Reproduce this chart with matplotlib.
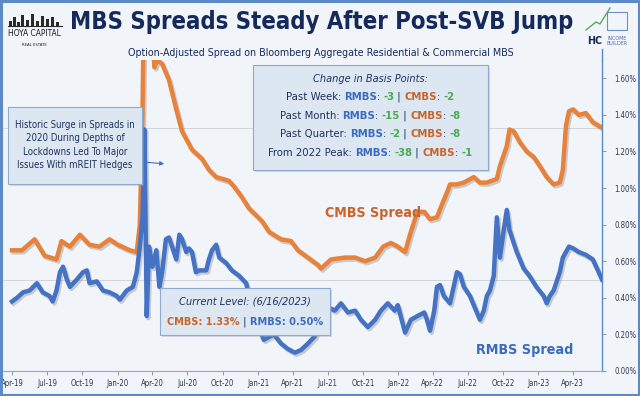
import matplotlib
matplotlib.use("Agg")
import matplotlib.pyplot as plt
import matplotlib.dates as mdates
import matplotlib.patheffects as pe
from matplotlib import font_manager as fm
from matplotlib.patches import Rectangle
from matplotlib.lines import Line2D
from matplotlib.text import Annotation
import pandas as pd

# data (percent)
cmbs_dates = ["2019-04-01", "2019-04-27", "2019-05-30", "2019-06-25", "2019-07-26", "2019-08-08",
              "2019-08-30", "2019-09-25", "2019-10-20", "2019-11-15", "2019-12-11", "2020-01-02",
              "2020-02-02", "2020-02-20", "2020-02-28", "2020-03-06", "2020-03-11", "2020-03-18",
              "2020-03-29", "2020-04-06", "2020-04-13", "2020-04-26", "2020-05-14", "2020-06-02",
              "2020-06-17", "2020-07-13", "2020-08-08", "2020-08-26", "2020-09-14", "2020-10-17",
              "2020-10-30", "2020-11-20", "2020-12-08", "2021-01-11", "2021-01-30", "2021-03-02",
              "2021-03-28", "2021-04-15", "2021-05-11", "2021-06-06", "2021-06-14", "2021-07-10",
              "2021-08-16", "2021-09-11", "2021-10-07", "2021-11-02", "2021-11-23", "2021-12-13",
              "2021-12-31", "2022-01-19", "2022-02-03", "2022-02-20", "2022-03-10", "2022-03-25",
              "2022-04-12", "2022-04-25", "2022-05-08", "2022-05-16", "2022-06-03", "2022-06-21",
              "2022-07-17", "2022-08-02", "2022-08-20", "2022-09-15", "2022-09-23", "2022-10-11",
              "2022-10-18", "2022-10-29", "2022-11-14", "2022-12-02", "2022-12-20", "2023-01-05",
              "2023-01-23", "2023-02-10", "2023-02-26", "2023-03-06", "2023-03-14", "2023-03-22",
              "2023-04-02", "2023-04-17", "2023-05-05", "2023-05-23", "2023-06-16"]
cmbs_vals = [0.66, 0.66, 0.72, 0.63, 0.61, 0.71,
             0.68, 0.745, 0.69, 0.68, 0.72, 0.69,
             0.66, 0.65, 0.80, 1.40, 2.30, 2.50,
             1.90, 1.66, 1.70, 1.68, 1.59, 1.43,
             1.31, 1.21, 1.16, 1.10, 1.06, 1.04,
             1.01, 0.95, 0.89, 0.82, 0.76, 0.72,
             0.71, 0.66, 0.62, 0.58, 0.56, 0.61,
             0.62, 0.62, 0.60, 0.62, 0.68, 0.70,
             0.68, 0.65, 0.76, 0.87, 0.87, 0.83,
             0.84, 0.91, 0.975, 1.02, 1.02, 1.03,
             1.06, 1.03, 1.03, 1.05, 1.12, 1.23,
             1.32, 1.31, 1.25, 1.20, 1.17, 1.12,
             1.06, 1.02, 1.03, 1.10, 1.34, 1.42,
             1.43, 1.40, 1.41, 1.36, 1.33]

rmbs_dates = ["2019-04-01", "2019-04-14", "2019-04-30", "2019-05-17", "2019-06-05", "2019-06-20",
              "2019-07-08", "2019-07-16", "2019-07-26", "2019-08-04", "2019-08-12", "2019-08-22",
              "2019-08-30", "2019-09-17", "2019-10-03", "2019-10-13", "2019-10-20", "2019-11-08",
              "2019-11-24", "2019-12-11", "2019-12-30", "2020-01-07", "2020-01-25", "2020-02-10",
              "2020-02-20", "2020-02-28", "2020-03-06", "2020-03-11", "2020-03-17", "2020-03-23",
              "2020-04-01", "2020-04-11", "2020-04-19", "2020-04-26", "2020-05-06", "2020-05-14",
              "2020-05-22", "2020-06-02", "2020-06-10", "2020-06-17", "2020-06-28", "2020-07-05",
              "2020-07-13", "2020-07-23", "2020-08-01", "2020-08-08", "2020-08-19", "2020-08-26",
              "2020-09-03", "2020-09-14", "2020-09-22", "2020-10-10", "2020-10-25", "2020-11-13",
              "2020-12-01", "2020-12-21", "2021-01-16", "2021-02-11", "2021-03-02", "2021-03-20",
              "2021-04-07", "2021-04-23", "2021-05-11", "2021-05-29", "2021-06-14", "2021-07-02",
              "2021-07-20", "2021-08-05", "2021-08-23", "2021-09-11", "2021-09-26", "2021-10-14",
              "2021-11-02", "2021-11-17", "2021-12-05", "2021-12-23", "2021-12-31", "2022-01-19",
              "2022-02-03", "2022-02-20", "2022-03-10", "2022-03-17", "2022-03-25", "2022-04-05",
              "2022-04-12", "2022-04-20", "2022-04-30", "2022-05-16", "2022-06-03", "2022-06-11",
              "2022-06-21", "2022-07-07", "2022-07-25", "2022-08-02", "2022-08-12", "2022-08-20",
              "2022-08-28", "2022-09-07", "2022-09-15", "2022-09-23", "2022-10-03", "2022-10-11",
              "2022-10-18", "2022-10-29", "2022-11-06", "2022-11-24", "2022-12-09", "2022-12-27",
              "2023-01-15", "2023-01-23", "2023-01-31", "2023-02-10", "2023-02-26", "2023-03-06",
              "2023-03-14", "2023-03-22", "2023-04-02", "2023-04-17", "2023-05-05", "2023-05-23",
              "2023-06-16"]
rmbs_vals = [0.38, 0.40, 0.43, 0.44, 0.48, 0.43,
             0.41, 0.38, 0.44, 0.54, 0.57, 0.50,
             0.46, 0.50, 0.54, 0.55, 0.48, 0.49,
             0.44, 0.43, 0.41, 0.39, 0.44, 0.46,
             0.54, 0.68, 0.84, 1.32, 0.30, 0.68,
             0.57, 0.66, 0.46, 0.54, 0.72, 0.73,
             0.68, 0.61, 0.745, 0.72, 0.65, 0.67,
             0.65, 0.54, 0.55, 0.55, 0.55, 0.61,
             0.66, 0.69, 0.62, 0.59, 0.55, 0.52,
             0.48, 0.30, 0.17, 0.20, 0.15, 0.12,
             0.10, 0.115, 0.15, 0.19, 0.27, 0.35,
             0.33, 0.37, 0.32, 0.33, 0.28, 0.24,
             0.28, 0.33, 0.37, 0.33, 0.36, 0.21,
             0.28, 0.30, 0.32, 0.28, 0.22, 0.33,
             0.46, 0.47, 0.41, 0.37, 0.54, 0.53,
             0.46, 0.41, 0.32, 0.28, 0.33, 0.41,
             0.44, 0.52, 0.84, 0.62, 0.77, 0.88,
             0.77, 0.70, 0.65, 0.56, 0.52, 0.46,
             0.41, 0.37, 0.41, 0.44, 0.54, 0.62,
             0.65, 0.68, 0.67, 0.65, 0.635, 0.61,
             0.50]

current_cmbs = 1.33
current_rmbs = 0.50
yticks = [0.0, 0.2, 0.4, 0.6, 0.8, 1.0, 1.2, 1.4, 1.6]

change_rows = [("Past Week: ", "-3", "-2"),
               ("Past Month: ", "-15", "-8"),
               ("Past Quarter: ", "-2", "-8"),
               ("From 2022 Peak: ", "-38", "-1")]

NAVY = "#15295B"
TXT = "#1F3260"
BLUE = "#4472C4"
BLUE_T = "#3A6BBF"
ORANGE = "#E8823A"
ORANGE_T = "#C8642A"
GREEN = "#4CAA50"
BG = "#F1F5FA"
BOX = "#DDE7F2"

# pick a narrow face if one is installed, otherwise Roboto; sizes are fitted to widths below
FAM, STRETCH = "Roboto", "normal"
for f in fm.fontManager.ttflist:
    if "Narrow" in f.name or "Condensed" in f.name or f.stretch in ("condensed", "semi-condensed"):
        FAM, STRETCH = f.name, f.stretch
        break
FONT = dict(family=[FAM, "DejaVu Sans"], fontstretch=STRETCH)

W, H = 640, 396


def px(x, y):
    return x / W, 1 - y / H


fig = plt.figure(figsize=(6.4, 3.96), dpi=100)
fig.patch.set_facecolor(BG)

ax = fig.add_axes([2 / W, 1 - 371 / H, 600 / W, (371 - 60) / H])
ax.set_facecolor(BG)

cd = pd.to_datetime(cmbs_dates)
rd = pd.to_datetime(rmbs_dates)
shadow = [pe.SimpleLineShadow(offset=(1.2, -1.5), shadow_color="#7a7a7a", alpha=0.35), pe.Normal()]
ax.plot(cd, cmbs_vals, color=ORANGE, lw=3.2, solid_joinstyle="round", path_effects=shadow, zorder=3)
ax.plot(rd, rmbs_vals, color=BLUE, lw=3.2, solid_joinstyle="round", path_effects=shadow, zorder=3)

ax.axhline(current_cmbs, color="#cfd5dd", lw=0.7, zorder=1)
ax.axhline(current_rmbs, color="#cfd5dd", lw=0.7, zorder=1)

ax.set_ylim(0, 1.70)
ax.set_xlim(pd.Timestamp("2019-03-06"), pd.Timestamp("2023-06-16"))
ax.yaxis.tick_right()
ax.set_yticks(yticks)
ax.set_yticklabels([f"{v:.2f}%" for v in yticks])
ax.xaxis.set_major_locator(mdates.MonthLocator(bymonth=[1, 4, 7, 10]))
ax.xaxis.set_major_formatter(mdates.DateFormatter("%b-%y"))
ax.tick_params(axis="both", labelsize=7, colors="#7f8a99", length=3, width=0.6, labelcolor="#2b3550")
ax.tick_params(axis="y", pad=6)
ax.tick_params(axis="x", pad=3)
for lab in ax.get_xticklabels() + ax.get_yticklabels():
    lab.set_family(FONT["family"])
    lab.set_fontstretch(STRETCH)
for s in ["top", "left"]:
    ax.spines[s].set_visible(False)
ax.spines["bottom"].set_color("#9aa5b5")
ax.spines["bottom"].set_linewidth(0.8)
ax.spines["right"].set_color("#5B8AC6")
ax.spines["right"].set_linewidth(1.0)
# right spine runs up to the logo
fig.add_artist(Line2D([602 / W, 602 / W], [px(0, 60)[1], px(0, 49)[1]], color="#5B8AC6", lw=1.0))

fits = []  # (text artists, target width px)

# series labels
t = fig.text(*px(373, 213), "CMBS Spread", color=ORANGE_T, fontsize=13, weight="bold",
             ha="center", va="center", zorder=5, **FONT)
fits.append(([t], 96))
t = fig.text(*px(525, 350), "RMBS Spread", color=BLUE_T, fontsize=13, weight="bold",
             ha="center", va="center", zorder=5, **FONT)
fits.append(([t], 97))

# frame
fig.add_artist(Rectangle((0.002, 0.003), 0.996, 0.994, transform=fig.transFigure,
                         fill=False, ec="#5B8AC6", lw=2.2))

# title & subtitle
t = fig.text(*px(322, 22), "MBS Spreads Steady After Post-SVB Jump", color=NAVY, fontsize=21,
             weight="bold", ha="center", va="center", **FONT)
fits.append(([t], 505))
t = fig.text(*px(321, 53), "Option-Adjusted Spread on Bloomberg Aggregate Residential & Commercial MBS",
             color=NAVY, fontsize=8.8, ha="center", va="center", **FONT)
fits.append(([t], 390))

# left logo
for bx, bh in [(9, 5), (13, 9), (17, 4), (21, 11), (26, 6), (31, 12), (36, 5), (41, 10), (46, 7), (51, 9), (56, 4)]:
    fig.add_artist(Rectangle(px(bx, 26), 2.5 / W, bh / H, transform=fig.transFigure, fc="#2a2a2a", ec="none"))
fig.add_artist(Line2D([8 / W, 62 / W], [px(0, 26)[1]] * 2, color="#2a2a2a", lw=0.8))
t = fig.text(*px(34, 34), "HOYA CAPITAL", color="#1c1c1c", fontsize=8.5, ha="center", va="center", **FONT)
fits.append(([t], 53))
t = fig.text(*px(34, 45), "REAL ESTATE", color="#1c1c1c", fontsize=4, ha="center", va="center", **FONT)
fits.append(([t], 25))

# right logo
fig.add_artist(Line2D([px(586, 0)[0], px(596, 0)[0], px(600, 0)[0], px(610, 0)[0]],
                      [px(0, 30)[1], px(0, 22)[1], px(0, 24)[1], px(0, 8)[1]], color="#5aa85a", lw=1.0))
fig.add_artist(Rectangle(px(607, 30), 20 / W, 18 / H, transform=fig.transFigure,
                         fill=False, ec="#6f8fbf", lw=0.8))
t = fig.text(*px(595, 41), "HC", color=NAVY, fontsize=9, weight="bold", ha="center", va="center", **FONT)
fits.append(([t], 15))
t = fig.text(*px(617, 41), "INCOME\nBUILDER", color="#4f6fa6", fontsize=3.8, ha="center",
             va="center", linespacing=1.0, **FONT)
fits.append(([t], 21))


def box(x0, y0, x1, y1):
    fig.add_artist(Rectangle(px(x0 + 2, y1 + 2), (x1 - x0) / W, (y1 - y0) / H, transform=fig.transFigure,
                             fc="#9aa3ad", ec="none", alpha=0.35, zorder=4))
    fig.add_artist(Rectangle(px(x0, y1), (x1 - x0) / W, (y1 - y0) / H, transform=fig.transFigure,
                             fc=BOX, ec="#8eaad0", lw=0.8, zorder=4))


def multicolor(cx, y, parts, size):
    # parts: (text, color, weight, style), chained left to right
    arts = []
    for s, c, w, st in parts:
        if not arts:
            a = fig.text(*px(cx, y), s, color=c, weight=w, style=st, fontsize=size,
                         ha="left", va="center", zorder=6, **FONT)
        else:
            a = Annotation(s, xy=(1, 0), xycoords=arts[-1], color=c, weight=w, style=st,
                           fontsize=size, ha="left", va="bottom", zorder=6, **FONT)
            fig.add_artist(a)
        arts.append(a)
    return arts


lines = []

# left annotation
box(8, 107, 142, 184)
t = fig.text(*px(75, 145), "Historic Surge in Spreads in\n2020 During Depths of\nLockdowns Led To Major\nIssues With mREIT Hedges",
             color=TXT, fontsize=7.6, ha="center", va="center", linespacing=1.4, zorder=6, **FONT)
fits.append(([t], 120))
fig.add_artist(Annotation("", xy=px(167, 164), xycoords="figure fraction", xytext=px(143, 162),
                          textcoords="figure fraction",
                          arrowprops=dict(arrowstyle="-|>", color=BLUE, lw=0.8, mutation_scale=6)))

# change in basis points box
box(253, 65, 488, 170)
t = fig.text(*px(370, 79), "Change in Basis Points:", color=TXT, fontsize=9, style="italic",
             ha="center", va="center", zorder=6, **FONT)
fits.append(([t], 114))
rows = []
for i, (lab, r, c) in enumerate(change_rows):
    parts = [(lab, TXT, "normal", "normal"), ("RMBS", BLUE_T, "bold", "normal"), (": ", TXT, "normal", "normal"),
             (r, GREEN, "bold", "normal"), (" | ", TXT, "normal", "normal"), ("CMBS", ORANGE_T, "bold", "normal"),
             (": ", TXT, "normal", "normal"), (c, GREEN, "bold", "normal")]
    arts = multicolor(370, 97 + i * 18.5, parts, 9)
    lines.append((370, 97 + i * 18.5, arts))
    rows.append(arts)

# current level box
box(160, 288, 330, 335)
t = fig.text(*px(245, 302), "Current Level: (6/16/2023)", color=TXT, fontsize=9, style="italic",
             ha="center", va="center", zorder=6, **FONT)
fits.append(([t], 132))
parts = [(f"CMBS: {current_cmbs:.2f}%", ORANGE_T, "bold", "normal"), (" | ", TXT, "normal", "normal"),
         (f"RMBS: {current_rmbs:.2f}%", BLUE_T, "bold", "normal")]
arts = multicolor(245, 322, parts, 10)
lines.append((245, 322, arts))
fits.append((arts, 156))

# fit font sizes to the widths measured on the reference
fig.canvas.draw()
r = fig.canvas.get_renderer()


def span(arts):
    return arts[-1].get_window_extent(r).x1 - arts[0].get_window_extent(r).x0


for arts, target in fits:
    w = span(arts)
    for a in arts:
        a.set_fontsize(a.get_fontsize() * target / w)
# one common size for the four change rows, set by the longest row
k_rows = 206 / span(rows[-1])
for arts in rows:
    for a in arts:
        a.set_fontsize(a.get_fontsize() * k_rows)

# tick labels: "1.60%" is about 22 px wide on the reference
ylab = ax.get_yticklabels()[-1]
k = 22 / ylab.get_window_extent(r).width
ax.tick_params(axis="both", labelsize=7 * k)

# centre the multi-coloured lines
fig.canvas.draw()
for cx, y, arts in lines:
    width = span(arts)
    arts[0].set_position(((cx - width / 2) / W, 1 - y / H))

fig.savefig("out.png", dpi=100, facecolor=BG)
